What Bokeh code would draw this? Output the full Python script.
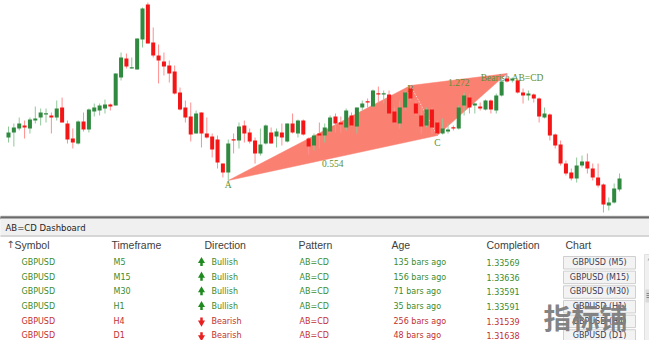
from bokeh.plotting import figure
from bokeh.layouts import column
from bokeh.models import Range1d, ColumnDataSource
from bokeh.core.properties import value
from bokeh.embed import file_html
from bokeh.resources import INLINE

# ---------------- price data (points above an arbitrary base) ----------------
open_ = [78, 83, 87, 90, 87, 95, 98, 101, 100, 98,
         108, 92, 77, 72, 94, 86, 104, 105, 107, 111,
         110, 138, 157, 147, 146, 176, 211, 173, 160, 154,
         150, 144, 123, 108, 99, 82, 103, 82, 79, 76,
         52, 43, 76, 75, 90, 83, 75, 62, 72, 83,
         79, 83, 74, 92, 82, 95, 77, 70, 82, 80,
         84, 99, 93, 88, 100, 89, 108, 114, 109, 122,
         121, 121, 104, 92, 108, 127, 112, 100, 90, 106,
         93, 82, 84, 88, 87, 110, 118, 110, 109, 106,
         115, 105, 120, 137, 135, 135, 123, 120, 121, 117,
         98, 101, 81, 71, 52, 43, 37, 50, 54, 47,
         38, 31, 10, 13, 26]
high = [89, 92, 98, 95, 98, 109, 107, 107, 103, 115,
        118, 95, 87, 95, 103, 107, 112, 112, 116, 112,
        142, 163, 162, 158, 177, 208, 213, 188, 171, 163,
        155, 150, 128, 115, 113, 105, 103, 98, 82, 80,
        52, 76, 82, 93, 95, 87, 78, 87, 91, 88,
        87, 92, 92, 102, 96, 96, 78, 82, 93, 92,
        100, 102, 99, 107, 103, 108, 115, 117, 126, 129,
        125, 125, 108, 115, 125, 130, 115, 112, 108, 108,
        95, 97, 92, 90, 110, 123, 122, 113, 113, 116,
        116, 122, 137, 142, 138, 137, 127, 125, 122, 118,
        108, 102, 82, 75, 55, 47, 58, 60, 62, 52,
        52, 32, 18, 32, 42]
low = [73, 69, 85, 77, 82, 92, 90, 93, 82, 95,
       93, 72, 67, 71, 84, 83, 99, 100, 102, 105,
       110, 135, 147, 147, 146, 168, 172, 158, 132, 140,
       133, 121, 105, 93, 74, 82, 68, 77, 58, 47,
       38, 35, 62, 67, 73, 72, 52, 60, 71, 72,
       68, 70, 73, 82, 78, 80, 61, 65, 67, 73,
       83, 83, 83, 85, 89, 82, 105, 108, 108, 113,
       112, 102, 92, 87, 105, 115, 100, 82, 88, 82,
       80, 81, 82, 85, 86, 100, 102, 102, 105, 105,
       102, 102, 119, 133, 133, 122, 112, 115, 113, 93,
       97, 75, 67, 50, 40, 35, 33, 48, 42, 35,
       28, 3, 5, 12, 24]
close = [83, 88, 92, 88, 96, 97, 103, 102, 98, 107,
         93, 76, 73, 94, 86, 106, 108, 110, 111, 109,
         142, 158, 149, 148, 177, 207, 172, 160, 155, 149,
         142, 122, 106, 98, 81, 102, 82, 78, 66, 53,
         43, 72, 75, 89, 82, 74, 62, 71, 90, 72,
         84, 78, 92, 83, 95, 81, 69, 80, 80, 88,
         98, 92, 91, 105, 90, 108, 112, 113, 125, 121,
         122, 102, 93, 108, 123, 117, 102, 89, 106, 88,
         82, 87, 86, 87, 108, 120, 108, 112, 107, 115,
         106, 120, 134, 134, 137, 123, 120, 122, 117, 99,
         102, 80, 70, 52, 42, 37, 50, 54, 47, 38,
         30, 11, 13, 27, 37]

# AB=CD pattern pivots (bar indices)
pivot_a, pivot_b, pivot_c, pivot_d = 41, 75, 80, 93
ratio_ac = "0.554"
ratio_bd = "1.272"
pattern_name = "Bearish AB=CD"

# ---------------- dashboard data ----------------
symbols = ["GBPUSD", "GBPUSD", "GBPUSD", "GBPUSD", "GBPUSD", "GBPUSD"]
timeframes = ["M5", "M15", "M30", "H1", "H4", "D1"]
directions = ["Bullish", "Bullish", "Bullish", "Bullish", "Bearish", "Bearish"]
patterns = ["AB=CD", "AB=CD", "AB=CD", "AB=CD", "AB=CD", "AB=CD"]
ages = [135, 156, 71, 35, 256, 48]
completions = ["1.33569", "1.33636", "1.33591", "1.33591", "1.31539", "1.31638"]
headers = ["Symbol", "Timeframe", "Direction", "Pattern", "Age", "Completion", "Chart"]

# ---------------- styling ----------------
W = 649
STEP = 5.36
X0 = 8          # pixel position of the first bar
GREEN = "#2f8a3f"
RED = "#f41616"
GREEN_WICK = "#8fc898"
RED_WICK = "#ff8f8f"
LABEL = "#5e8f30"
SALMON = "#fa8072"
TXT_GREEN = "#3b8c2e"
TXT_RED = "#c23030"

n = len(open_)
xs = list(range(n))
ups = [c >= o for o, c in zip(open_, close)]
tops, bots = [], []
for o, c in zip(open_, close):
    t, b = max(o, c), min(o, c)
    if t - b < 1.2:
        t = b + 1.2
    tops.append(t)
    bots.append(b)

src = ColumnDataSource(dict(
    x=xs, high=high, low=low, top=tops, bottom=bots,
    color=[GREEN if u else RED for u in ups],
    wick=[GREEN_WICK if u else RED_WICK for u in ups],
))

chart = figure(width=W, height=215, x_range=Range1d(-X0 / STEP, (W - X0) / STEP),
               y_range=Range1d(0, 215),
               output_backend="svg", toolbar_location=None, min_border=0,
               outline_line_color=None, background_fill_color="white")
chart.axis.visible = False
chart.grid.visible = False

pa = (pivot_a, low[pivot_a])
pb = (pivot_b, high[pivot_b])
pc = (pivot_c, low[pivot_c])
pd_ = (pivot_d, high[pivot_d])

chart.patches(xs=[[pa[0], pb[0], pc[0]], [pb[0], pd_[0], pc[0]]],
              ys=[[pa[1], pb[1], pc[1]], [pb[1], pd_[1], pc[1]]],
              fill_color=SALMON, line_color=SALMON, line_width=0.5)
chart.line([pb[0], pc[0]], [pb[1], pc[1]], line_color="white", line_dash="1 2", line_alpha=0.8)

serif = value("Liberation Serif")
lab_x = [pa[0], pb[0], pc[0], (pa[0] + pc[0]) / 2, (pb[0] + pd_[0]) / 2, pd_[0] + 1]
lab_y = [pa[1] - 4, pb[1] - 3, pc[1] - 7, (pa[1] + pc[1]) / 2 - 5, (pb[1] + pd_[1]) / 2 - 3, pd_[1] - 4]
lab_t = ["A", "B", "C", ratio_ac, ratio_bd, pattern_name]
chart.text(x=lab_x, y=lab_y, text=lab_t, text_font=serif, text_font_size="9.5px",
           text_color=LABEL, text_align="center", text_baseline="middle")

chart.segment(x0="x", y0="low", x1="x", y1="high", line_color="wick", line_width=1, source=src)
chart.vbar(x="x", width=0.75, top="top", bottom="bottom", fill_color="color", line_color=None, source=src)

# ---------------- dashboard ----------------
dash = figure(width=W, height=125, x_range=Range1d(0, W), y_range=Range1d(340, 215),
              output_backend="svg", toolbar_location=None, min_border=0,
              outline_line_color=None, background_fill_color="white")
dash.axis.visible = False
dash.grid.visible = False

dash.quad(left=[0], right=[700], top=[215.5], bottom=[216.5], color="#b4b4b4")
dash.quad(left=[0], right=[700], top=[216.5], bottom=[218.5], color="#6a6a6a")
dash.quad(left=[0], right=[700], top=[218.5], bottom=[235], color="#f0f0f0")
dash.quad(left=[0], right=[700], top=[235], bottom=[236], color="#d6d6d6")
dash.text(x=[5], y=[227], text=["AB=CD Dashboard"], text_font=value("DejaVu Sans"),
          text_font_size="8.5px", text_color="#1e1e1e", text_baseline="middle")

hx = [14, 111, 204, 298, 391, 486, 565]
hy = 244
dash.text(x=[10], y=[hy], text=["↑"], text_font=value("DejaVu Sans"), text_font_size="10px",
          text_color="#505050", text_align="center", text_baseline="middle")
dash.text(x=hx, y=[hy] * len(hx), text=headers, text_font=value("Liberation Sans"),
          text_font_size="10.5px", text_color="#404040", text_baseline="middle")

row_y = [262 + 14.65 * k for k in range(len(symbols))]
cols = [TXT_GREEN if d == "Bullish" else TXT_RED for d in directions]
ff = value("DejaVu Sans")
fs = "8px"

def col_text(x, texts):
    dash.text(x=[x] * len(texts), y=row_y, text=texts, text_font=ff, text_font_size=fs,
              text_color=cols, text_baseline="middle")

col_text(21, symbols)
col_text(113, timeframes)
col_text(211, directions)
col_text(299, patterns)
col_text(393, [f"{a} bars ago" for a in ages])
col_text(486, completions)

# direction arrows
AX = 201
bull_y = [y for y, d in zip(row_y, directions) if d == "Bullish"]
bear_y = [y for y, d in zip(row_y, directions) if d == "Bearish"]
dash.scatter(x=[AX] * len(bull_y), y=[y - 1.5 for y in bull_y], marker="triangle", size=7,
             fill_color="#1f8a1f", line_color=None)
dash.segment(x0=[AX] * len(bull_y), y0=[y - 1 for y in bull_y], x1=[AX] * len(bull_y),
             y1=[y + 3.5 for y in bull_y], line_color="#1f8a1f", line_width=2.5)
dash.scatter(x=[AX] * len(bear_y), y=[y + 1.5 for y in bear_y], marker="inverted_triangle", size=7,
             fill_color="#e82020", line_color=None)
dash.segment(x0=[AX] * len(bear_y), y0=[y + 1 for y in bear_y], x1=[AX] * len(bear_y),
             y1=[y - 3.5 for y in bear_y], line_color="#e82020", line_width=2.5)

# chart buttons
dash.quad(left=[563] * len(row_y), right=[635] * len(row_y), top=[y - 6 for y in row_y],
          bottom=[y + 6.5 for y in row_y], fill_color="#f3f3f3", line_color="#cfcfcf")
dash.text(x=[599] * len(row_y), y=row_y, text=[f"{s} ({t})" for s, t in zip(symbols, timeframes)],
          text_font=ff, text_font_size=fs, text_color="#3d3d55", text_align="center",
          text_baseline="middle")

# scrollbar
dash.quad(left=[644], right=[655], top=[254], bottom=[352], fill_color="#f0f0f0", line_color="#e0e0e0")
dash.quad(left=[645], right=[654], top=[289], bottom=[302], fill_color="#d9d9d9", line_color=None)
dash.scatter(x=[649.5], y=[258.5], marker="triangle", size=5, fill_color="#b0b0b0", line_color=None)
dash.segment(x0=[646, 646, 646], y0=[293, 295, 297], x1=[649, 649, 649], y1=[293, 295, 297],
             line_color="#888888", line_width=1)

# watermark
dash.text(x=[585], y=[316], text=["指标铺"], text_font=value("Noto Sans CJK SC"),
          text_font_size="28px", text_font_style="bold", text_color="#7c7c7c",
          text_alpha=0.95, text_align="center", text_baseline="middle")

layout = column(chart, dash, spacing=0)
open("out.html", "w").write(file_html(layout, INLINE))
